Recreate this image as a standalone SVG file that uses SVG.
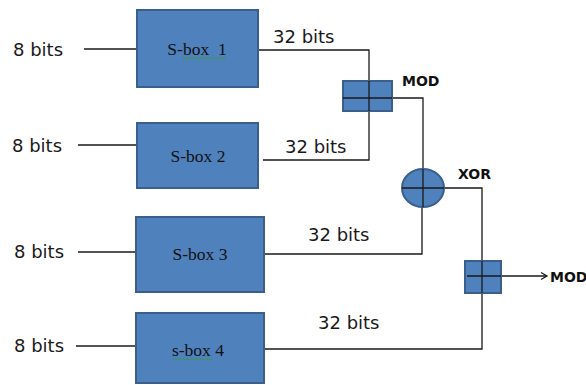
<svg xmlns="http://www.w3.org/2000/svg" width="586" height="385" viewBox="0 0 586 385">
<style>
.box{fill:#4f81bd;stroke:#3a5f8c;stroke-width:2}
.ln{fill:none;stroke:#1a1a1a;stroke-width:1.3}
.lbl{font-family:"DejaVu Sans",Verdana,sans-serif;font-size:18px;fill:#1a1a1a}
.bx{font-family:"Liberation Serif","Times New Roman",serif;font-size:17.5px;fill:#111;text-anchor:middle}
.op{font-family:"DejaVu Sans",Verdana,sans-serif;font-size:14px;font-weight:bold;fill:#111}
.sq{fill:none;stroke:#3a9a3a;stroke-width:0.9}
</style>
<defs>
<marker id="arr" markerWidth="10" markerHeight="10" refX="8" refY="5" orient="auto" markerUnits="userSpaceOnUse">
<polyline points="2,1.5 8,5 2,8.5" fill="none" stroke="#1a1a1a" stroke-width="1.3"/>
</marker>
</defs>
<g id="connectors">
<line class="ln" x1="84" y1="49" x2="137" y2="49"/>
<line class="ln" x1="78" y1="145" x2="137" y2="145"/>
<line class="ln" x1="78" y1="252" x2="136" y2="252"/>
<line class="ln" x1="76" y1="346" x2="136" y2="346"/>
<polyline class="ln" points="258,50 369,50 369,160 263,160"/>
<polyline class="ln" points="343,98 423,98 423,188"/>
<polyline class="ln" points="264,254 422,254 422,188"/>
<polyline class="ln" points="402,188 482,188 482,349 264,349"/>
<line class="ln" x1="467" y1="276" x2="547" y2="276" marker-end="url(#arr)"/>
</g>
<g id="in1"><text class="lbl" x="13" y="56">8 bits</text></g>
<g id="in2"><text class="lbl" x="12" y="152">8 bits</text></g>
<g id="in3"><text class="lbl" x="14" y="258">8 bits</text></g>
<g id="in4"><text class="lbl" x="14" y="352">8 bits</text></g>
<g id="sbox1">
<rect class="box" x="137" y="10" width="121" height="77"/>
<text class="bx" x="197" y="55" xml:space="preserve">S-box  1</text>
<path class="sq" d="M182,59 l2,-1.5 l2,1.5 l2,-1.5 l2,1.5 l2,-1.5 l2,1.5 l2,-1.5 l2,1.5 l2,-1.5 l2,1.5 l2,-1.5 l2,1.5 l2,-1.5 l2,1.5 l2,-1.5 l2,1.5 l2,-1.5 l2,1.5 l2,-1.5 l2,1.5 l2,-1.5 l2,1.5"/>
</g>
<g id="sbox2">
<rect class="box" x="137" y="123" width="121" height="65"/>
<text class="bx" x="198" y="162">S-box 2</text>
</g>
<g id="sbox3">
<rect class="box" x="136" y="217" width="128" height="75"/>
<text class="bx" x="200" y="260">S-box 3</text>
</g>
<g id="sbox4">
<rect class="box" x="136" y="313" width="128" height="70"/>
<text class="bx" x="198" y="356">s-box 4</text>
<path class="sq" d="M173,360 l2,-1.5 l2,1.5 l2,-1.5 l2,1.5 l2,-1.5 l2,1.5 l2,-1.5 l2,1.5 l2,-1.5 l2,1.5 l2,-1.5 l2,1.5 l2,-1.5 l2,1.5 l2,-1.5 l2,1.5 l2,-1.5 l2,1.5 l2,-1.5 l2,1.5"/>
</g>
<g id="lbl32a"><text class="lbl" x="273" y="43">32 bits</text></g>
<g id="lbl32b"><text class="lbl" x="285" y="153">32 bits</text></g>
<g id="lbl32c"><text class="lbl" x="308" y="241">32 bits</text></g>
<g id="lbl32d"><text class="lbl" x="318" y="329">32 bits</text></g>
<g id="mod1">
<rect class="box" x="343" y="81" width="49" height="30"/>
<line class="ln" x1="343" y1="98" x2="392" y2="98"/>
<line class="ln" x1="369" y1="81" x2="369" y2="111"/>
<text class="op" x="402" y="86">MOD</text>
</g>
<g id="xor">
<ellipse class="box" cx="423" cy="188" rx="21" ry="19"/>
<line class="ln" x1="402" y1="188" x2="444" y2="188"/>
<line class="ln" x1="423" y1="169" x2="423" y2="207"/>
<text class="op" x="458" y="179">XOR</text>
</g>
<g id="mod2">
<rect class="box" x="465" y="261" width="36" height="32"/>
<line class="ln" x1="467" y1="276" x2="501" y2="276"/>
<line class="ln" x1="482" y1="261" x2="482" y2="293"/>
<text class="op" x="550" y="282">MOD</text>
</g>
</svg>
